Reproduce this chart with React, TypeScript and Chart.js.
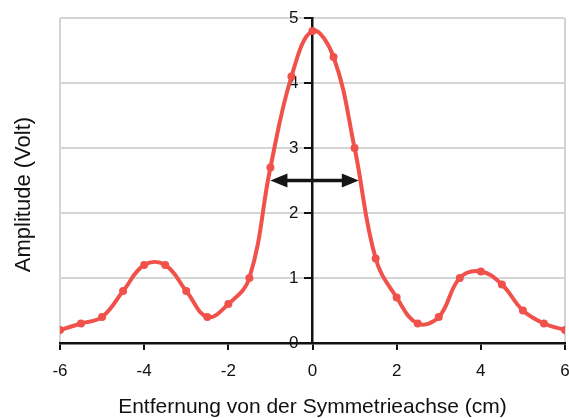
import { useEffect, useRef } from "react";
import { Chart, registerables } from "chart.js";

Chart.register(...registerables);

const distanceCm = [-6, -5.5, -5, -4.5, -4, -3.5, -3, -2.5, -2, -1.5, -1, -0.5, 0, 0.5, 1, 1.5, 2, 2.5, 3, 3.5, 4, 4.5, 5, 5.5, 6];
const amplitudeVolt = [0.2, 0.3, 0.4, 0.8, 1.2, 1.2, 0.8, 0.4, 0.6, 1.0, 2.7, 4.1, 4.8, 4.4, 3.0, 1.3, 0.7, 0.3, 0.4, 1.0, 1.1, 0.9, 0.5, 0.3, 0.2];

const xRange = [-6, 6];
const xStep = 2;
const yRange = [0, 5];
const yStep = 1;

// double-headed arrow marking the width of the main maximum
const arrowLevel = 2.5;
const arrowFrom = -1.0;
const arrowTo = 1.1;

const xTitle = "Entfernung von der Symmetrieachse (cm)";
const yTitle = "Amplitude (Volt)";

const FONT = "'Liberation Sans', Arial, Helvetica, sans-serif";
const RED = "#f0524b";

const arrowPlugin = {
  id: "halfWidthArrow",
  afterDatasetsDraw(chart: any) {
    const { ctx, scales } = chart;
    const xs = scales.x;
    const ys = scales.y;
    const yy = ys.getPixelForValue(arrowLevel);
    const xa = xs.getPixelForValue(arrowFrom);
    const xb = xs.getPixelForValue(arrowTo);
    const head = 17;
    const hw = 7;
    ctx.save();
    ctx.strokeStyle = "#151515";
    ctx.fillStyle = "#151515";
    ctx.lineWidth = 3.5;
    ctx.beginPath();
    ctx.moveTo(xa + head - 2, yy);
    ctx.lineTo(xb - head + 2, yy);
    ctx.stroke();
    ctx.beginPath();
    ctx.moveTo(xa, yy);
    ctx.lineTo(xa + head, yy - hw);
    ctx.lineTo(xa + head, yy + hw);
    ctx.closePath();
    ctx.fill();
    ctx.beginPath();
    ctx.moveTo(xb, yy);
    ctx.lineTo(xb - head, yy - hw);
    ctx.lineTo(xb - head, yy + hw);
    ctx.closePath();
    ctx.fill();
    ctx.restore();
  },
};

const yTitlePlugin = {
  id: "yTitle",
  afterDraw(chart: any) {
    const { ctx, chartArea } = chart;
    ctx.save();
    ctx.translate(chartArea.left - 36, (chartArea.top + chartArea.bottom) / 2 + 14);
    ctx.rotate(-Math.PI / 2);
    ctx.font = `22px ${FONT}`;
    ctx.fillStyle = "#111";
    ctx.textAlign = "center";
    ctx.textBaseline = "middle";
    ctx.fillText(yTitle, 0, 0);
    ctx.restore();
  },
};

export default function App() {
  const ref = useRef<HTMLCanvasElement | null>(null);

  useEffect(() => {
    document.body.style.margin = "0";
    const canvas = ref.current;
    if (!canvas) return;
    const chart = new Chart(canvas, {
      type: "line",
      data: {
        datasets: [
          {
            data: distanceCm.map((x, i) => ({ x, y: amplitudeVolt[i] })),
            borderColor: RED,
            backgroundColor: RED,
            borderWidth: 4,
            pointRadius: 4,
            pointBorderWidth: 0,
            pointBackgroundColor: RED,
            tension: 0.4,
            fill: false,
          },
        ],
      },
      options: {
        responsive: false,
        animation: false,
        layout: { padding: { left: 60, right: 4, top: 18, bottom: 0 } },
        plugins: {
          legend: { display: false },
          tooltip: { enabled: false },
          title: { display: false },
        },
        scales: {
          x: {
            type: "linear",
            position: "bottom",
            min: xRange[0],
            max: xRange[1],
            afterFit(scale: any) {
              scale.height = 75;
              scale.paddingLeft = 0;
              scale.paddingRight = 0;
            },
            ticks: {
              stepSize: xStep,
              color: "#111",
              font: { family: FONT, size: 17 },
              padding: 11,
              maxRotation: 0,
            },
            grid: {
              drawOnChartArea: true,
              color: (c: any) =>
                c.tick && (c.tick.value === xRange[0] || c.tick.value === xRange[1]) ? "#d4d4d4" : "rgba(0,0,0,0)",
              tickColor: "#111",
              tickLength: 7,
              lineWidth: 2,
            },
            border: { display: true, color: "#111", width: 2.5 },
            title: {
              display: true,
              text: xTitle,
              color: "#111",
              font: { family: FONT, size: 21, lineHeight: 1 },
              padding: { top: 0, bottom: 0 },
            },
          },
          y: {
            type: "linear",
            position: { x: 0 } as any,
            min: yRange[0],
            max: yRange[1],
            afterFit(scale: any) {
              scale.paddingTop = 0;
              scale.paddingBottom = 0;
            },
            ticks: {
              stepSize: yStep,
              color: "#111",
              font: { family: FONT, size: 17 },
              callback: (v: any) => `${v}   `,
            },
            grid: {
              drawOnChartArea: true,
              color: "#d4d4d4",
              tickColor: "#111",
              tickLength: 7,
              lineWidth: 2,
            },
            border: { display: true, color: "#111", width: 2.5 },
          },
        },
      },
      plugins: [arrowPlugin, yTitlePlugin],
    });
    return () => chart.destroy();
  }, []);

  return (
    <div style={{ width: 569, height: 418 }}>
      <canvas ref={ref} width={569} height={418} style={{ display: "block" }} />
    </div>
  );
}
